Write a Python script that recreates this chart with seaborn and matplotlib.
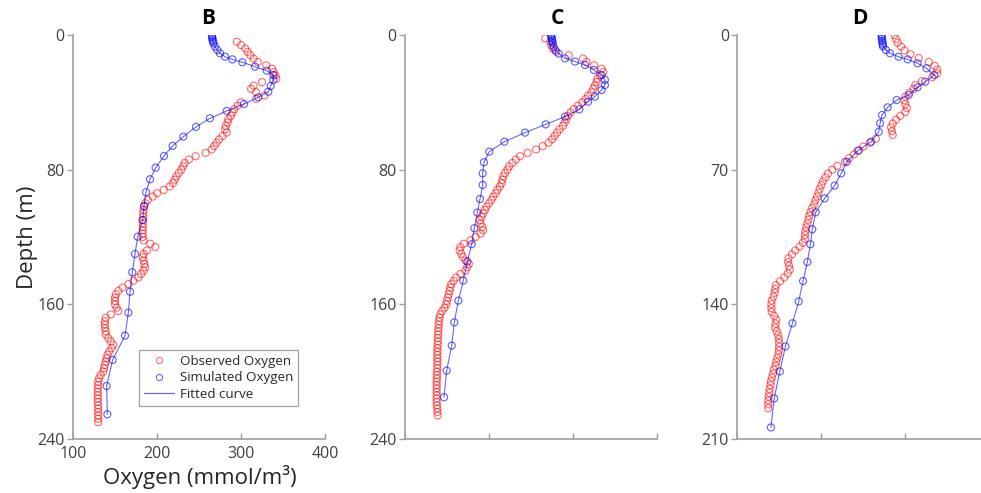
import matplotlib
matplotlib.use("Agg")
import matplotlib.pyplot as plt
import seaborn as sns
import pandas as pd
from matplotlib.lines import Line2D

# ---------------- data ----------------
# Panel B
B_obs_depth = [4, 6, 8, 10, 12, 14, 16, 18, 20, 22,
               24, 26, 28, 30, 32, 34, 36, 38, 40, 42,
               44, 46, 48, 50, 52, 54, 56, 58, 60, 62,
               64, 66, 68, 70, 72, 74, 76, 78, 80, 82,
               84, 86, 88, 90, 92, 94, 96, 98, 100, 102,
               104, 106, 108, 110, 112, 114, 116, 118, 120, 122,
               124, 126, 128, 130, 132, 134, 136, 138, 140, 142,
               144, 146, 148, 150, 152, 154, 156, 158, 160, 162,
               164, 166, 168, 170, 172, 174, 176, 178, 180, 182,
               184, 186, 188, 190, 192, 194, 196, 198, 200, 202,
               204, 206, 208, 210, 212, 214, 216, 218, 220, 222,
               224, 226, 228, 230]
B_obs_oxy = [295, 300, 305, 308, 311, 315, 320, 330, 337, 339,
             341, 342, 325, 315, 312, 318, 328, 318, 300, 296,
             292, 290, 288, 285, 284, 282, 281, 283, 278, 274,
             271, 268, 265, 258, 246, 238, 233, 231, 229, 226,
             223, 221, 219, 215, 208, 200, 195, 189, 186, 184.5,
             184, 183.5, 183.5, 183, 183, 183, 183, 183, 183, 184,
             192, 198, 188, 184, 183, 184, 185, 186, 184, 181,
             178, 172, 166, 159, 154, 151, 150, 150, 150, 152,
             154, 145, 139, 138, 138, 138, 139, 139, 142, 145,
             148, 146, 143, 141, 140, 139, 138, 137, 136, 133,
             131, 130, 130, 129.5, 129.5, 129.5, 129.5, 129.5, 130, 130,
             130, 130, 130, 130]
B_sim_depth = [0, 1, 2, 3, 4, 5, 6.9, 8.9, 10.9, 12.9,
               14.5, 16.2, 18.8, 21.2, 23.8, 26.7, 30.3, 33.7, 37.0, 41.0,
               45.1, 49.5, 54.6, 60.4, 65.9, 71.9, 78.8, 85.7, 93.4, 101.6,
               109.9, 119.8, 130.1, 141.0, 152.5, 164.9, 178.6, 193.0, 208.5, 225.3]
B_sim_oxy = [265.5, 265.5, 266, 266, 267, 267, 269, 271.8, 275, 281,
             289.7, 301.6, 316.7, 330.6, 338.5, 338.5, 335.3, 332.5, 320.6, 303.6,
             283, 263, 246.4, 231.3, 218.6, 208.3, 198.4, 191.7, 186.9, 184.5,
             183, 177, 173.8, 170.6, 167.9, 165.9, 161.9, 147.2, 140, 140.9]

# Panel C
C_obs_depth = [2, 4, 6, 8, 10, 12, 14, 16, 18, 20,
               22, 24, 26, 28, 30, 32, 34, 36, 38, 40,
               42, 44, 46, 48, 50, 52, 54, 56, 58, 60,
               62, 64, 66, 68, 70, 72, 74, 76, 78, 80,
               82, 84, 86, 88, 90, 92, 94, 96, 98, 100,
               102, 104, 106, 108, 110, 112, 114, 116, 118, 120,
               122, 124, 126, 128, 130, 132, 134, 136, 138, 140,
               142, 144, 146, 148, 150, 152, 154, 156, 158, 160,
               162, 164, 166, 168, 170, 172, 174, 176, 178, 180,
               182, 184, 186, 188, 190, 192, 194, 196, 198, 200,
               202, 204, 206, 208, 210, 212, 214, 216, 218, 220,
               222, 224, 226]
C_obs_oxy = [267, 273, 274, 276, 280, 295, 312, 316, 325, 334,
             336, 332, 329, 328, 326, 324, 322, 318, 315, 311,
             306, 301, 297, 294, 292, 290, 288, 284, 281, 278,
             275, 271, 264, 256, 246, 237, 232, 228, 224, 222,
             219, 217, 216, 215, 213, 210, 208, 205, 203, 200,
             197, 195, 193, 191, 189, 190, 192, 193, 190, 184,
             178, 170, 166, 165, 167, 169, 172, 176, 174, 172,
             166, 161, 158, 155, 154, 153, 152, 151, 150, 149,
             147, 144, 142, 141, 140.5, 140, 140, 139.5, 139.5, 139,
             139, 139, 138.5, 138.5, 138.5, 138.5, 138.5, 138.5, 138.5, 138,
             138, 138, 137.7, 137.7, 137.7, 137.7, 137.7, 137.7, 137.7, 138,
             138.3, 138.6, 139]
C_sim_depth = [0, 1, 2, 3, 4, 5, 7, 9, 11, 13.9,
               15.8, 17.8, 20.8, 23.8, 26.7, 29.7, 32.7, 36.6, 39.6, 44.2,
               48.5, 53.1, 58.0, 63.4, 69.3, 75.6, 82.2, 89.1, 97.4, 105.5,
               114.8, 124.3, 134.6, 145.9, 157.8, 170.7, 184.5, 199.4, 215.2]
C_sim_oxy = [274, 274, 275, 275, 275.5, 276, 277, 279, 283, 290.5,
             302.4, 314.3, 325, 334, 338, 338, 334, 326, 318, 307.5,
             290.5, 267.5, 242.9, 218.3, 200.4, 194, 192.5, 192.5, 189.3, 186.1,
             182.5, 179.4, 174.2, 169.4, 163.5, 158.7, 155.6, 149.6, 146.4]

# Panel D
D_obs_depth = [0, 2, 4, 6, 8, 10, 12, 14, 16, 18,
               20, 22, 24, 26, 28, 30, 32, 34, 36, 38,
               40, 42, 44, 46, 48, 50, 52, 54, 56, 58,
               60, 62, 64, 66, 68, 70, 72, 74, 76, 78,
               80, 82, 84, 86, 88, 90, 92, 94, 96, 98,
               100, 102, 104, 106, 108, 110, 112, 114, 116, 118,
               120, 122, 124, 126, 128, 130, 132, 134, 136, 138,
               140, 142, 144, 146, 148, 150, 152, 154, 156, 158,
               160, 162, 164, 166, 168, 170, 172, 174, 176, 178,
               180, 182, 184, 186, 188, 190, 192, 194]
D_obs_oxy = [287, 289, 291, 295, 299, 306, 316, 328, 335, 338,
             338, 332, 320, 312, 310, 305, 300, 299, 300, 302,
             300, 294, 289, 285, 283, 284, 285, 265, 258, 250,
             245, 239, 233, 228, 219, 213, 208, 205, 202, 200,
             198, 196.5, 195, 193, 191.5, 189, 187, 185.5, 184.5, 183.5,
             182, 181, 180.5, 180.5, 178, 174, 169, 165, 161, 160.5,
             161.5, 162.5, 160, 156, 151, 146, 145, 144.5, 143, 141,
             140.5, 140.5, 141, 144, 146.5, 145.5, 145, 147, 148.5, 149.5,
             149.8, 149.8, 149.5, 148.8, 147.5, 146.3, 145.5, 143.5, 142.5, 141.3,
             140, 139.5, 138.5, 138, 137.3, 136.8, 136.8, 136.8]
D_sim_depth = [0, 1, 2, 3, 4, 5, 6, 7.8, 9.5, 11.3,
               12.7, 14.7, 17.3, 20.8, 24.3, 27.2, 31.2, 33.8, 37.6, 41.6,
               45.9, 50.3, 55.5, 60.1, 65.9, 71.9, 78.3, 84.9, 92.2, 101.0,
               108.8, 118.0, 127.9, 138.5, 149.9, 161.9, 174.9, 188.9, 204.0]
D_sim_oxy = [272, 272, 272, 272.5, 273, 273, 273.5, 277, 281.8, 292,
             302.8, 314.6, 325.3, 334.4, 323.7, 314.6, 304, 289.7, 279, 272.3,
             270, 268.4, 259.3, 243.5, 230.4, 223.7, 215.8, 204, 193.3, 189.3,
             187, 183.4, 178.3, 173.1, 165.6, 157.3, 150.6, 143.9, 140]

panel_titles = ["B", "C", "D"]
x_ticks = [100, 200, 300, 400]
y_ticks_BC = [0, 80, 160, 240]
y_ticks_D = [0, 70, 140, 210]
legend_labels = ["Observed Oxygen", "Simulated Oxygen", "Fitted curve"]

# ---------------- style ----------------
sns.set_theme(style="white")
plt.rcParams["font.family"] = ["Open Sans", "DejaVu Sans"]

RED = (1.0, 0.0, 0.0)
BLUE = (0.0, 0.0, 1.0)
SPINE = "#a0a0a0"
TXT = "#404040"

W, H = 981, 493
fig = plt.figure(figsize=(W / 100, H / 100), dpi=100)

panels = [
    dict(left=73, title=panel_titles[0], tx=0.536, obs=(B_obs_depth, B_obs_oxy),
         sim=(B_sim_depth, B_sim_oxy), yt=y_ticks_BC, ymax=240, xlabels=True),
    dict(left=405, title=panel_titles[1], tx=0.603, obs=(C_obs_depth, C_obs_oxy),
         sim=(C_sim_depth, C_sim_oxy), yt=y_ticks_BC, ymax=240, xlabels=False),
    dict(left=737.3, title=panel_titles[2], tx=0.487, obs=(D_obs_depth, D_obs_oxy),
         sim=(D_sim_depth, D_sim_oxy), yt=y_ticks_D, ymax=210, xlabels=False),
]

axes = []
for p in panels:
    ax = fig.add_axes([p["left"] / W, (H - 439) / H, 252 / W, 404 / H])
    axes.append(ax)
    obs = pd.DataFrame({"depth": p["obs"][0], "oxy": p["obs"][1]})
    sim = pd.DataFrame({"depth": p["sim"][0], "oxy": p["sim"][1]})

    sns.scatterplot(data=obs, x="oxy", y="depth", marker="o", s=26, color=RED,
                    linewidth=0.85, alpha=0.55, ax=ax)
    ax.collections[-1].set_facecolor("none")
    ax.collections[-1].set_edgecolor((1, 0, 0, 0.55))

    sns.lineplot(data=sim, x="oxy", y="depth", sort=False, estimator=None,
                 color=BLUE, linewidth=0.8, alpha=0.6, ax=ax)

    sns.scatterplot(data=sim, x="oxy", y="depth", marker="o", s=26, color=BLUE,
                    linewidth=0.85, alpha=0.6, ax=ax)
    ax.collections[-1].set_facecolor("none")
    ax.collections[-1].set_edgecolor((0, 0, 1, 0.6))

    ax.set_xlim(100, 400)
    ax.set_ylim(p["ymax"], 0)
    ax.set_xticks(x_ticks)
    ax.set_yticks(p["yt"])
    if not p["xlabels"]:
        ax.set_xticklabels([])
    ax.set_xlabel("")
    ax.set_ylabel("")
    for s in ["top", "right"]:
        ax.spines[s].set_visible(False)
    for s in ["left", "bottom"]:
        ax.spines[s].set_color(SPINE)
        ax.spines[s].set_linewidth(1.2)
    ax.tick_params(axis="y", direction="out", length=4, width=1, color=SPINE,
                   labelsize=11.5, labelcolor=TXT, pad=2, left=True)
    ax.tick_params(axis="x", direction="in", length=4, width=1, color=SPINE,
                   labelsize=11.5, labelcolor=TXT, pad=5, bottom=True)
    ax.patch.set_alpha(0)
    ax.text(p["tx"], 1.042, p["title"], transform=ax.transAxes, ha="center",
            va="center", fontsize=15, fontweight="bold", color="black")

# legend in panel B
handles = [
    Line2D([], [], marker="o", ls="none", mfc="none", mec=(1, 0, 0, 0.55), markersize=4.5, mew=0.8),
    Line2D([], [], marker="o", ls="none", mfc="none", mec=(0, 0, 1, 0.6), markersize=4.5, mew=0.8),
    Line2D([], [], color=(0, 0, 1, 0.6), lw=0.9),
]
leg = axes[0].legend(handles, legend_labels, loc="upper left",
                     bbox_to_anchor=((139 - 73) / 252, (439 - 350) / 404),
                     frameon=True, fancybox=False, framealpha=1, edgecolor=SPINE,
                     fontsize=9.6, borderpad=0.35, labelspacing=0.28, handlelength=2.3,
                     handletextpad=0.4, borderaxespad=0)
leg.get_frame().set_linewidth(0.9)
for t in leg.get_texts():
    t.set_color("#262626")

fig.text(28 / W, 1 - 237 / H, "Depth (m)", rotation=90, ha="center", va="center",
         fontsize=16, color="#262626")
fig.text(200 / W, 1 - 477 / H, "Oxygen (mmol/m³)", ha="center", va="center",
         fontsize=16, color="#262626")

fig.savefig("out.png", dpi=100)
